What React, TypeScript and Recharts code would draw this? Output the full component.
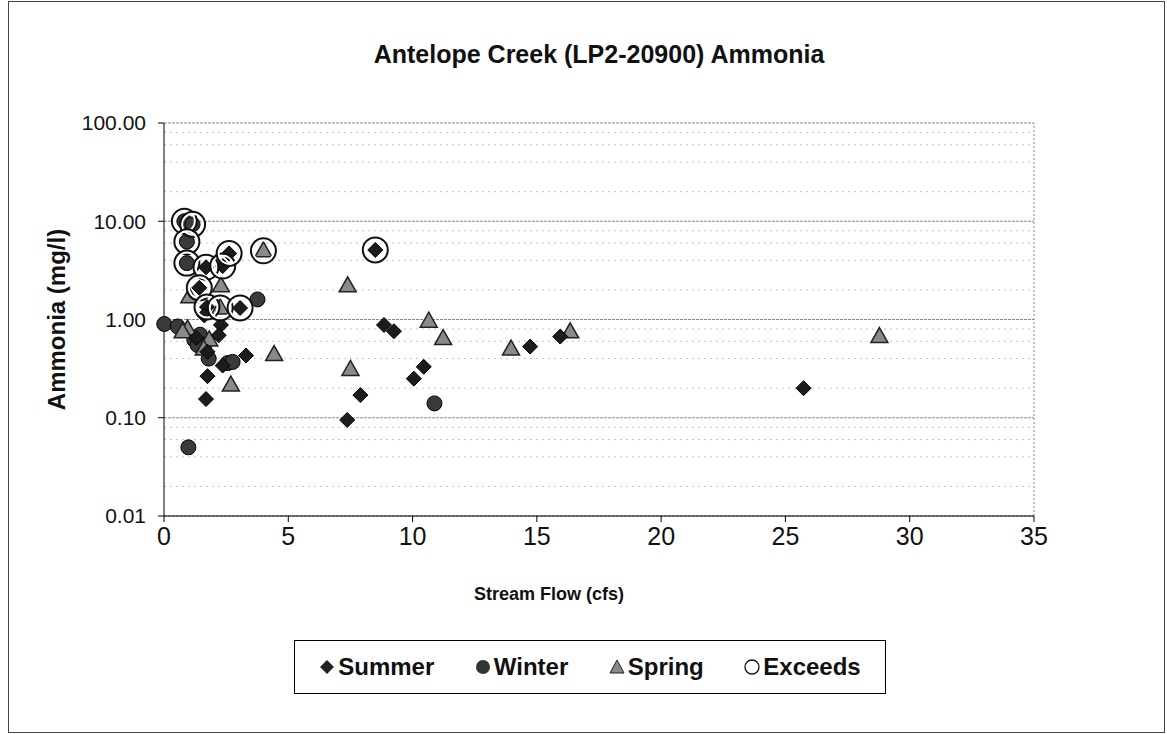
import { ScatterChart, Scatter, XAxis, YAxis, CartesianGrid, ReferenceLine } from 'recharts'

const summerFlow = [1.69, 2.36, 2.62, 1.42, 1.73, 3.06, 8.5, 1.62, 2.29, 2.2, 1.75, 2.36, 3.3, 1.75, 1.69, 8.85, 9.25, 10.45, 10.05, 7.9, 7.37, 14.73, 15.94, 25.73, 1.3]
const summerAmmonia = [3.4, 3.5, 4.7, 2.1, 1.34, 1.31, 5.1, 1.1, 0.88, 0.69, 0.47, 0.34, 0.43, 0.265, 0.155, 0.88, 0.76, 0.33, 0.25, 0.17, 0.095, 0.53, 0.67, 0.2, 0.65]

const winterFlow = [0.82, 1.15, 0.92, 0.92, 3.76, 0.01, 0.55, 1.22, 1.45, 1.62, 1.8, 2.56, 2.76, 10.88, 0.98, 1.35]
const winterAmmonia = [10.0, 9.3, 6.2, 3.75, 1.6, 0.9, 0.85, 0.62, 0.7, 0.55, 0.4, 0.36, 0.37, 0.14, 0.05, 0.55]

const springFlow = [4.0, 2.26, 2.29, 1.02, 0.95, 0.75, 1.82, 1.6, 2.69, 4.43, 7.39, 7.5, 10.65, 11.23, 13.96, 16.34, 28.78]
const springAmmonia = [5.0, 1.31, 2.2, 1.7, 0.8, 0.75, 0.62, 0.5, 0.215, 0.44, 2.2, 0.31, 0.96, 0.64, 0.5, 0.75, 0.67]

const exceedsFlow = [0.82, 1.15, 0.92, 0.92, 1.69, 2.36, 2.62, 1.42, 1.73, 2.26, 3.06, 4.0, 8.5]
const exceedsAmmonia = [10.0, 9.3, 6.2, 3.75, 3.4, 3.5, 4.7, 2.1, 1.34, 1.31, 1.31, 5.0, 5.1]

const xTicks = [0, 5, 10, 15, 20, 25, 30, 35]
const yTicks = [0.01, 0.1, 1, 10, 100]
const minorLines = [0.02, 0.04, 0.06, 0.08, 0.2, 0.4, 0.6, 0.8, 2, 4, 6, 8, 20, 40, 60, 80]

const toPoints = (xs: number[], ys: number[]) => xs.map((x, i) => ({ x, y: ys[i] }))

const FONT = '"Liberation Sans", Arial, sans-serif'

function Diamond(props: any) {
  const { cx, cy } = props
  const s = 7.5
  return (
    <polygon
      points={`${cx},${cy - s} ${cx + s},${cy} ${cx},${cy + s} ${cx - s},${cy}`}
      fill="#1c1c1c"
      stroke="#000"
      strokeWidth={1}
    />
  )
}

function Dot(props: any) {
  const { cx, cy } = props
  return <circle cx={cx} cy={cy} r={7.5} fill="#3a3a3a" stroke="#000" strokeWidth={1} />
}

function Triangle(props: any) {
  const { cx, cy } = props
  return (
    <polygon
      points={`${cx},${cy - 9} ${cx + 8.5},${cy + 6} ${cx - 8.5},${cy + 6}`}
      fill="#8a8a8a"
      stroke="#222"
      strokeWidth={1.5}
    />
  )
}

function Ring(props: any) {
  const { cx, cy } = props
  return (
    <g>
      <circle cx={cx} cy={cy} r={10.5} fill="none" stroke="#fff" strokeWidth={2} />
      <circle cx={cx} cy={cy} r={12.5} fill="none" stroke="#111" strokeWidth={2} />
    </g>
  )
}

function LegendBox() {
  const item = (icon: React.ReactNode, label: string) => (
    <div style={{ display: 'flex', alignItems: 'center', gap: 3 }}>
      <svg width={16} height={16}>{icon}</svg>
      <span>{label}</span>
    </div>
  )
  return (
    <div
      style={{
        position: 'absolute',
        left: 294,
        top: 640,
        width: 592,
        height: 54,
        border: '1px solid #000',
        boxSizing: 'border-box',
        display: 'flex',
        alignItems: 'center',
        justifyContent: 'space-around',
        padding: '0 4px',
        fontFamily: FONT,
        fontWeight: 'bold',
        fontSize: 24,
        color: '#111',
      }}
    >
      {item(<polygon points="8,1 15,8 8,15 1,8" fill="#222" />, 'Summer')}
      {item(<circle cx={8} cy={8} r={7} fill="#333" />, 'Winter')}
      {item(<polygon points="8,1 15,14 1,14" fill="#888" stroke="#222" />, 'Spring')}
      {item(<circle cx={8} cy={8} r={7} fill="none" stroke="#111" strokeWidth={1.3} />, 'Exceeds')}
    </div>
  )
}

export default function App() {
  return (
    <div style={{ position: 'absolute', left: 0, top: 0, width: 1167, height: 734, background: '#fff' }}>
      <div
        style={{
          position: 'absolute',
          left: 8,
          top: 1,
          width: 1157,
          height: 732,
          border: '1px solid #444',
          boxSizing: 'border-box',
        }}
      />
      <div
        style={{
          position: 'absolute',
          left: 164,
          width: 870,
          top: 40,
          textAlign: 'center',
          fontFamily: FONT,
          fontWeight: 'bold',
          fontSize: 25,
          color: '#111',
        }}
      >
        Antelope Creek (LP2-20900) Ammonia
      </div>
      <div
        style={{
          position: 'absolute',
          left: 400,
          width: 298,
          top: 584,
          textAlign: 'center',
          fontFamily: FONT,
          fontWeight: 'bold',
          fontSize: 18,
          color: '#111',
        }}
      >
        Stream Flow (cfs)
      </div>
      <div style={{ position: 'absolute', left: 0, top: 0 }}>
        <ScatterChart width={1167} height={734} margin={{ top: 123, right: 133, bottom: 178, left: 84 }}>
          <CartesianGrid horizontal vertical={false} stroke="#8a8a8a" strokeDasharray="3 1" />
          {minorLines.map((v) => (
            <ReferenceLine key={v} y={v} stroke="#c4c4c4" strokeDasharray="2 4" ifOverflow="hidden" />
          ))}
          <ReferenceLine x={35} stroke="#888" strokeDasharray="2 2" />
          <XAxis
            type="number"
            dataKey="x"
            domain={[0, 35]}
            ticks={xTicks}
            interval={0}
            height={40}
            tickSize={6}
            tickMargin={5}
            stroke="#000"
            tick={{ fill: '#111', fontSize: 25, fontFamily: FONT }}
          />
          <YAxis
            type="number"
            dataKey="y"
            scale="log"
            domain={[0.01, 100]}
            ticks={yTicks}
            interval={0}
            allowDataOverflow
            width={80}
            tickSize={6}
            tickMargin={12}
            stroke="#000"
            tickFormatter={(v: number) => v.toFixed(2)}
            tick={{ fill: '#111', fontSize: 21, fontFamily: FONT }}
            label={{
              value: 'Ammonia (mg/l)',
              angle: -90,
              position: 'insideLeft',
              offset: -28,
              fill: '#111',
              fontSize: 24,
              fontWeight: 'bold',
              fontFamily: FONT,
              style: { textAnchor: 'middle' },
            }}
          />
          <Scatter data={toPoints(winterFlow, winterAmmonia)} shape={Dot} isAnimationActive={false} />
          <Scatter data={toPoints(springFlow, springAmmonia)} shape={Triangle} isAnimationActive={false} />
          <Scatter data={toPoints(summerFlow, summerAmmonia)} shape={Diamond} isAnimationActive={false} />
          <Scatter data={toPoints(exceedsFlow, exceedsAmmonia)} shape={Ring} isAnimationActive={false} />
        </ScatterChart>
      </div>
      <LegendBox />
    </div>
  )
}
